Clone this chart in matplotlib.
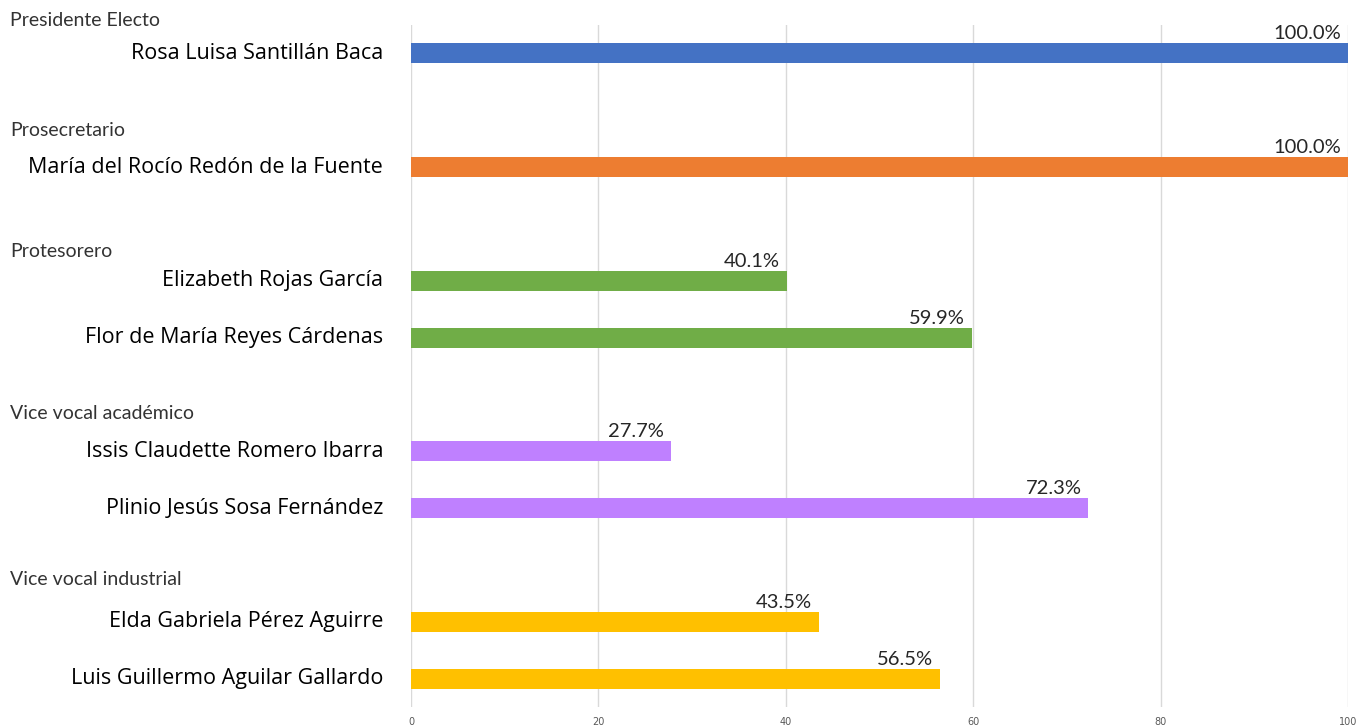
import matplotlib.pyplot as plt
from matplotlib.transforms import blended_transform_factory, offset_copy

groups = ["Presidente Electo", "Prosecretario", "Protesorero",
          "Vice vocal académico", "Vice vocal industrial"]
names = [
    ["Rosa Luisa Santillán Baca"],
    ["María del Rocío Redón de la Fuente"],
    ["Elizabeth Rojas García", "Flor de María Reyes Cárdenas"],
    ["Issis Claudette Romero Ibarra", "Plinio Jesús Sosa Fernández"],
    ["Elda Gabriela Pérez Aguirre", "Luis Guillermo Aguilar Gallardo"],
]
values = [
    [100.0],
    [100.0],
    [40.1, 59.9],
    [27.7, 72.3],
    [43.5, 56.5],
]
colors = ["#4472C4", "#ED7D31", "#70AD47", "#BF80FF", "#FFC000"]
# how far above its first bar each group title sits (in bar slots)
header_gap = [0.58, 0.65, 0.52, 0.67, 0.74]

fig = plt.figure(figsize=(13.59, 7.26), dpi=100)
ax = fig.add_axes([411/1359, 1 - 707/726, 937/1359, 682/726])

trans = blended_transform_factory(fig.transFigure, ax.transData)
val_trans = offset_copy(ax.transData, fig=fig, x=-7, y=0, units="dots")
bar_h = 0.35
slot = 0
for g, label in enumerate(groups):
    ax.text(10/1359, slot - header_gap[g], label, transform=trans, ha="left", va="center",
            fontsize=14, family="Lato", color="#333333")
    for name, v in zip(names[g], values[g]):
        ax.barh(slot, v, height=bar_h, color=colors[g], zorder=2)
        ax.text(v, slot - bar_h/2 - 0.02, f"{v:.1f}%", transform=val_trans,
                ha="right", va="bottom", fontsize=14.5, family="Lato", color="#262626")
        ax.text(383/1359, slot, name, transform=trans, ha="right", va="center",
                fontsize=15.5, family="Open Sans", color="black")
        slot += 1
    slot += 1

ax.set_xlim(0, 100)
ax.set_ylim(11.5, -0.5)
ax.set_yticks([])
ax.set_xticks(range(0, 101, 20))
ax.tick_params(axis="x", length=0, labelsize=7, labelcolor="#595959", pad=7)
ax.grid(axis="x", color="#D9D9D9", linewidth=1, zorder=0)
for s in ax.spines.values():
    s.set_visible(False)

fig.savefig("out.png", dpi=100)
